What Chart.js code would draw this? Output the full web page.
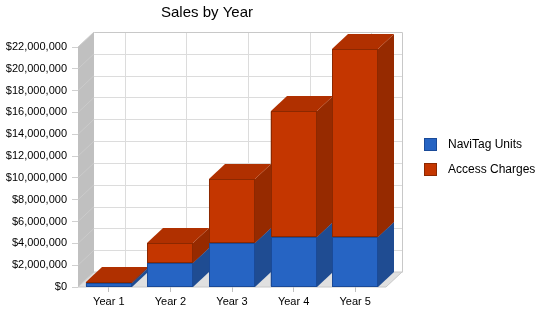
<!DOCTYPE html>
<html>
<head>
<meta charset="utf-8">
<title>Sales by Year</title>
<script src="https://cdn.jsdelivr.net/npm/chart.js@4/dist/chart.umd.min.js"></script>
<style>
  html, body { margin: 0; padding: 0; background: #fff; }
  #wrap { width: 550px; height: 318px; }
</style>
</head>
<body>
<div id="wrap"><canvas id="sales" width="550" height="318"></canvas></div>
<script>
/* ── Data ───────────────────────────────────────── */
const years         = ["Year 1", "Year 2", "Year 3", "Year 4", "Year 5"];
const naviTagUnits  = [350000, 2230000, 4060000, 4610000, 4610000];
const accessCharges = [100000, 1770000, 5810000, 11490000, 17180000];
const yMax  = 22000000;
const yStep = 2000000;

/* ── Look ───────────────────────────────────────── */
const FONT  = "'Liberation Sans', Arial, sans-serif";
const DEPTH = { dx: 16, dy: 15 };
const faces = [
  { front: "#2664C3", top: "#1E55A8", side: "#1F4C92", border: "#1A4A98" },
  { front: "#C43600", top: "#B03000", side: "#962A00", border: "#8C2800" }
];

function money(v) {
  return "$" + Math.round(v).toLocaleString("en-US");
}

/* ── Walls, floor, grid (behind the bars) ───────── */
const walls = {
  id: "walls",
  beforeDatasetsDraw(chart) {
    const { ctx, chartArea: a, scales } = chart;
    const { dx, dy } = DEPTH;
    ctx.save();
    // back wall
    ctx.fillStyle = "#fff";
    ctx.fillRect(a.left + dx, a.top - dy, a.right - a.left, a.bottom - a.top);
    ctx.lineWidth = 1;
    ctx.strokeStyle = "#DCDCDC";
    scales.y.ticks.forEach(t => {
      const py = Math.round(scales.y.getPixelForValue(t.value)) + 0.5;
      ctx.beginPath();
      ctx.moveTo(a.left + dx, py - dy);
      ctx.lineTo(a.right + dx, py - dy);
      ctx.stroke();
    });
    years.forEach((_, i) => {
      const px = Math.round(scales.x.getPixelForValue(i)) + 0.5;
      ctx.beginPath();
      ctx.moveTo(px + dx, a.top - dy);
      ctx.lineTo(px + dx, a.bottom - dy);
      ctx.stroke();
    });
    ctx.strokeStyle = "#C8C8C8";
    ctx.beginPath();
    ctx.moveTo(a.left + dx + 0.5, a.top - dy + 0.5);
    ctx.lineTo(a.right + dx + 0.5, a.top - dy + 0.5);
    ctx.lineTo(a.right + dx + 0.5, a.bottom - dy + 0.5);
    ctx.stroke();

    // left side wall
    ctx.fillStyle = "#C0C0C0";
    ctx.beginPath();
    ctx.moveTo(a.left, a.top);
    ctx.lineTo(a.left + dx, a.top - dy);
    ctx.lineTo(a.left + dx, a.bottom - dy);
    ctx.lineTo(a.left, a.bottom);
    ctx.closePath();
    ctx.fill();
    ctx.strokeStyle = "#CBCBCB";
    scales.y.ticks.forEach(t => {
      const py = scales.y.getPixelForValue(t.value);
      ctx.beginPath();
      ctx.moveTo(a.left, py);
      ctx.lineTo(a.left + dx, py - dy);
      ctx.stroke();
    });

    // floor
    ctx.fillStyle = "#E0E0E0";
    ctx.beginPath();
    ctx.moveTo(a.left, a.bottom);
    ctx.lineTo(a.left + dx, a.bottom - dy);
    ctx.lineTo(a.right + dx, a.bottom - dy);
    ctx.lineTo(a.right, a.bottom);
    ctx.closePath();
    ctx.fill();
    ctx.strokeStyle = "#C8C8C8";
    ctx.stroke();
    ctx.restore();
  }
};

/* ── 3D boxes: side + top + front, left to right ── */
const boxes = {
  id: "boxes",
  afterDatasetsDraw(chart) {
    const { ctx } = chart;
    const { dx, dy } = DEPTH;
    const metas = chart.data.datasets.map((_, i) => chart.getDatasetMeta(i));
    ctx.save();
    ctx.lineWidth = 1;
    years.forEach((_, i) => {
      metas.forEach((meta, d) => {
        const bar = meta.data[i];
        const c = faces[d];
        const l = Math.round(bar.x - bar.width / 2);
        const r = Math.round(bar.x + bar.width / 2);
        const top = Math.round(Math.min(bar.y, bar.base));
        const bot = Math.round(Math.max(bar.y, bar.base));
        // side
        ctx.fillStyle = c.side;
        ctx.beginPath();
        ctx.moveTo(r, top);
        ctx.lineTo(r + dx, top - dy);
        ctx.lineTo(r + dx, bot - dy);
        ctx.lineTo(r, bot);
        ctx.closePath();
        ctx.fill();
        // top
        ctx.fillStyle = c.top;
        ctx.beginPath();
        ctx.moveTo(l, top);
        ctx.lineTo(l + dx, top - dy);
        ctx.lineTo(r + dx, top - dy);
        ctx.lineTo(r, top);
        ctx.closePath();
        ctx.fill();
        // front
        ctx.fillStyle = c.front;
        ctx.fillRect(l, top, r - l, bot - top);
        ctx.strokeStyle = c.border;
        ctx.strokeRect(l + 0.5, top + 0.5, r - l - 1, Math.max(bot - top - 1, 0));
      });
    });
    ctx.restore();
  }
};

/* ── Title + legend ─────────────────────────────── */
const labels = {
  id: "labels",
  afterDraw(chart) {
    const { ctx } = chart;
    ctx.save();
    ctx.fillStyle = "#000";
    ctx.font = "15px " + FONT;
    ctx.textAlign = "center";
    ctx.textBaseline = "alphabetic";
    ctx.fillText("Sales by Year", 207, 17);

    ctx.font = "12px " + FONT;
    ctx.textAlign = "left";
    ctx.textBaseline = "middle";
    chart.data.datasets.forEach((ds, d) => {
      const y = 138 + d * 25;
      ctx.fillStyle = faces[d].front;
      ctx.fillRect(424, y, 13, 13);
      ctx.strokeStyle = faces[d].border;
      ctx.strokeRect(424.5, y + 0.5, 12, 12);
      ctx.fillStyle = "#000";
      ctx.fillText(ds.label, 448, y + 7);
    });
    ctx.restore();
  }
};

/* ── Chart ──────────────────────────────────────── */
new Chart(document.getElementById("sales"), {
  type: "bar",
  data: {
    labels: years,
    datasets: [
      { label: "NaviTag Units",   data: naviTagUnits,  backgroundColor: faces[0].front, borderColor: faces[0].border, borderWidth: 1 },
      { label: "Access Charges",  data: accessCharges, backgroundColor: faces[1].front, borderColor: faces[1].border, borderWidth: 1 }
    ]
  },
  options: {
    responsive: false,
    devicePixelRatio: 1,
    animation: false,
    categoryPercentage: 0.75,
    barPercentage: 1,
    layout: { padding: { top: 47, right: 164, left: 0, bottom: 0 } },
    plugins: {
      legend: { display: false },
      title: { display: false },
      tooltip: { enabled: false }
    },
    scales: {
      x: {
        stacked: true,
        afterFit: s => { s.height = 31; },
        grid: { drawOnChartArea: false, offset: false, tickLength: 5, color: "#C0C0C0" },
        border: { display: false },
        ticks: { color: "#000", padding: 3, font: { family: FONT, size: 11 } }
      },
      y: {
        stacked: true,
        min: 0,
        max: yMax,
        afterFit: s => { s.width = 78; },
        grid: { drawOnChartArea: false, tickLength: 6, color: "#D0D0D0" },
        border: { display: false },
        ticks: {
          stepSize: yStep,
          color: "#000",
          padding: 5,
          font: { family: FONT, size: 11 },
          callback: v => money(v)
        }
      }
    }
  },
  plugins: [walls, boxes, labels]
});
</script>
</body>
</html>
